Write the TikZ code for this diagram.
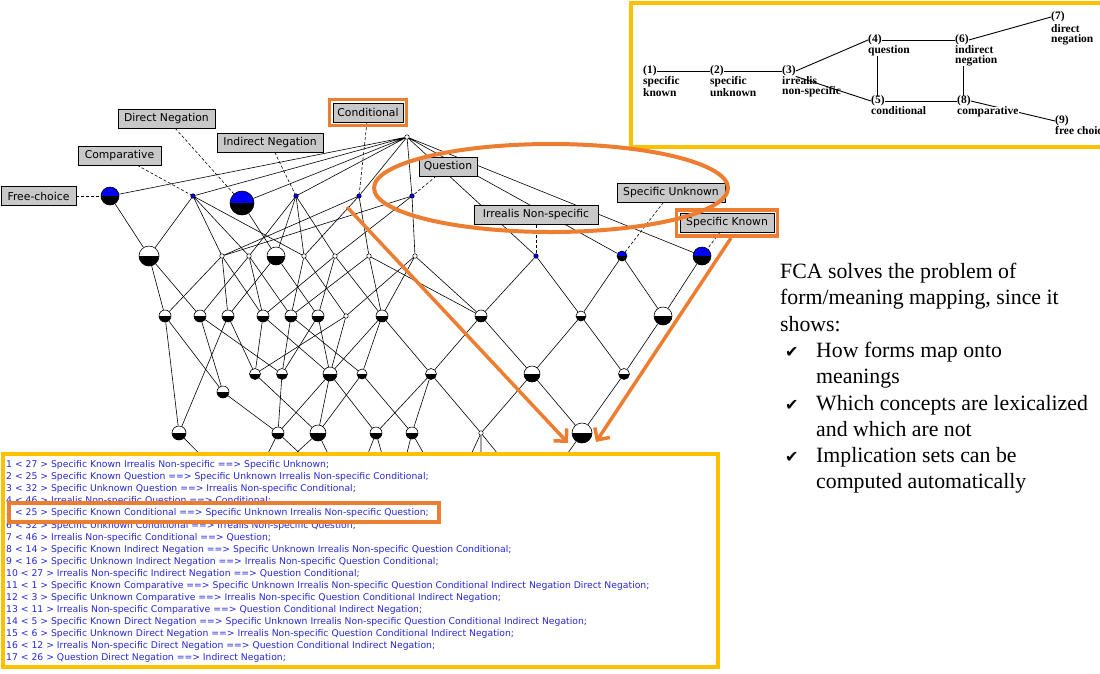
\documentclass[tikz,border=0pt]{standalone}
\usepackage{fontspec}
\setmainfont{Liberation Serif}
\newfontfamily\guifont{DejaVu Sans}
\usetikzlibrary{arrows.meta,backgrounds,fit}

\definecolor{fcorange}{RGB}{237,125,49}
\definecolor{fcyellow}{RGB}{255,192,0}
\definecolor{fcblue}{RGB}{0,0,245}
\definecolor{rulesblue}{RGB}{40,40,215}
\definecolor{lblgray}{RGB}{200,200,200}

\tikzset{
  conc/.style={circle, draw, line width=0.6pt, inner sep=0pt, minimum size=#1, fill=white,
    path picture={\fill[black] (path picture bounding box.west) rectangle (path picture bounding box.south east);}},
  attr/.style={conc=#1, fill=fcblue},
  cdot/.style={circle, draw, line width=0.5pt, inner sep=0pt, minimum size=4.5pt, fill=white},
  bdot/.style={cdot, fill=fcblue},
  lbl/.style={draw, fill=lblgray, line width=0.6pt, font=\guifont\fontsize{10.8}{12}\selectfont,
    inner xsep=1.5pt, minimum height=19pt, minimum width=#1},
  link/.style={line width=0.6pt},
  hint/.style={line width=0.6pt, dash pattern=on 3pt off 2pt},
  hilite/.style={draw=fcorange, line width=3.5pt},
  ybox/.style={draw=fcyellow, line width=4pt},
  scan/.style={font=\bfseries\fontsize{11.5}{10}\selectfont, inner sep=0pt, anchor=west},
  scanw/.style={scan, anchor=north west, align=left},
}
\newcommand{\tick}{\makebox[31pt][l]{\guifont\fontsize{16}{16}\selectfont ✔}}

\begin{document}
\begin{tikzpicture}[x=1pt,y=-1pt]
  \useasboundingbox (0,0) rectangle (1100,673);

  % semantic map, top right
  \begin{scope}
    \clip (0,0) rectangle (1100,673);
    \draw[ybox] (631,3) rectangle (1110,147);
    \node[scan] (t1) at (643,71) {(1)};
    \node[scanw] (w1) at (643,76.5) {specific\\known};
    \node[scan] (t2) at (710,71) {(2)};
    \node[scanw] (w2) at (710,76.5) {specific\\unknown};
    \node[scan] (t3) at (782,71) {(3)};
    \node[scanw] (w3) at (782,76.5) {irrealis\\non-specific};
    \node[scan] (t4) at (868,40) {(4)};
    \node[scanw] (w4) at (868,45.5) {question};
    \node[scan] (t5) at (871,101) {(5)};
    \node[scanw] (w5) at (871,106.5) {conditional};
    \node[scan] (t6) at (955,40) {(6)};
    \node[scanw] (w6) at (955,45.5) {indirect\\negation};
    \node[scan] (t7) at (1051,17) {(7)};
    \node[scanw] (w7) at (1051,24) {direct\\negation};
    \node[scan] (t8) at (957,101) {(8)};
    \node[scanw, fill=white] (w8) at (957,106.5) {comparative};
    \node[scan] (t9) at (1055,121) {(9)};
    \node[scanw] (w9) at (1055,126.5) {free choice};
  \end{scope}

  % lattice: root
  \node[cdot] (top) at (407,137) {};
  % level 1 (attribute concepts)
  \node[attr=18pt] (fc) at (110,196) {};
  \node[bdot] (cmp) at (193,196) {};
  \node[attr=24pt] (dn) at (242,203) {};
  \node[bdot] (idn) at (296,196) {};
  \node[bdot] (cnd) at (359,196) {};
  \node[bdot] (qst) at (412,196) {};
  \node[bdot] (irr) at (536,256) {};
  \node[attr=10pt] (su) at (622,256) {};
  \node[attr=18pt] (sk) at (702,256) {};
  % level 2
  \node[conc=20pt] (b1) at (149,256) {};
  \node[cdot] (b2) at (222,256) {};
  \node[cdot] (b3) at (249,256) {};
  \node[conc=18pt] (b4) at (276,256) {};
  \node[cdot] (b5) at (304,256) {};
  \node[cdot] (b6) at (335,256) {};
  \node[cdot] (b7) at (369,256) {};
  \node[cdot] (b8) at (415,256) {};
  % level 3
  \node[conc=12pt] (c1) at (165,316) {};
  \node[conc=12pt] (c2) at (200,316) {};
  \node[conc=12pt] (c3) at (228,316) {};
  \node[conc=12pt] (c4) at (263,316) {};
  \node[conc=12pt] (c5) at (291,316) {};
  \node[conc=12pt] (c6) at (318,316) {};
  \node[cdot] (c7) at (346,316) {};
  \node[conc=12pt] (c8) at (382,316) {};
  \node[conc=12pt] (c9) at (481,316) {};
  \node[conc=10pt] (c10) at (581,316) {};
  \node[conc=18pt] (c11) at (663,316) {};
  % level 4
  \node[conc=12pt] (d0) at (223,392) {};
  \node[conc=11pt] (d1) at (255,374) {};
  \node[conc=11pt] (d2) at (282,374) {};
  \node[conc=14pt] (d3) at (330,374) {};
  \node[conc=10pt] (d4) at (362,374) {};
  \node[conc=11pt] (d5) at (431,374) {};
  \node[conc=16pt] (d6) at (532,374) {};
  \node[conc=11pt] (d7) at (624,374) {};
  % level 5
  \node[conc=14pt] (e1) at (179,433) {};
  \node[conc=12pt] (e2) at (278,433) {};
  \node[conc=16pt] (e3) at (318,433) {};
  \node[conc=12pt] (e4) at (376,433) {};
  \node[conc=12pt] (e5) at (412,433) {};
  \node[cdot] (e6) at (481,433) {};
  \node[conc=20pt] (e7) at (582,433) {};
  % level 6, hidden under the rules box
  \coordinate (g1) at (245,500);
  \coordinate (g2) at (350,500);
  \coordinate (g3) at (395,500);
  \coordinate (g4) at (450,500);
  \coordinate (g5) at (481,500);
  \coordinate (g6) at (535,500);

  % attribute labels
  \node[lbl=75pt] (lfc) at (38.5,196) {Free-choice};
  \node[lbl=83pt] (lcmp) at (119.5,155.5) {Comparative};
  \node[lbl=97pt] (ldn) at (166.5,118.5) {Direct Negation};
  \node[lbl=106pt] (lidn) at (270,142.5) {Indirect Negation};
  \node[lbl=70pt] (lcnd) at (368,112.5) {Conditional};
  \node[lbl=58pt] (lqst) at (448,166.5) {Question};
  \node[lbl=124pt] (lirr) at (536,215) {Irrealis Non-specific};
  \node[lbl=108pt] (lsu) at (671,192.5) {Specific Unknown};
  \node[lbl=94pt] (lsk) at (727,223) {Specific Known};

  \begin{pgfonlayer}{background}
    % semantic map links
    \draw[line width=0.9pt] (t1.east) -- (t2.west);
    \draw[line width=0.9pt] (t2.east) -- (t3.west);
    \draw[line width=0.9pt] (t3.east) -- (t4.west);
    \draw[line width=0.9pt] (t3.south east) -- (t5.west);
    \draw[line width=0.9pt] (t4.east) -- (t6.west);
    \draw[line width=0.9pt] (w4.south -| t5.north) -- (t5.north);
    \draw[line width=0.9pt] (t5.east) -- (t8.west);
    \draw[line width=0.9pt] (w6.south -| t8.north) -- (t8.north);
    \draw[line width=0.9pt] (t6.east) -- (t7.west);
    \draw[line width=0.9pt] (t8.east) -- (t9.west);

    \begin{scope}[link]
      % root
      \draw (top) -- (fc) (top) -- (cmp) (top) -- (dn) (top) -- (idn) (top) -- (cnd);
      \draw (top) -- (qst) (top) -- (irr) (top) -- (su) (top) -- (sk);
      % level 1
      \draw (fc) -- (b1);
      \draw (cmp) -- (b1) (cmp) -- (b2) (cmp) -- (b3) (cmp) -- (b5);
      \draw (dn) -- (b4);
      \draw (idn) -- (b3) (idn) -- (b4) (idn) -- (b5) (idn) -- (b6);
      \draw (cnd) -- (b2) (cnd) -- (b5) (cnd) -- (b7);
      \draw (qst) -- (b2) (qst) -- (b6) (qst) -- (b8);
      \draw (irr) -- (c9) (irr) -- (c10);
      \draw (su) -- (c10) (su) -- (c11);
      \draw (sk) -- (c11);
      % level 2
      \draw (b1) -- (c1) (b1) -- (c2);
      \draw (b2) -- (c1) (b2) -- (c3) (b2) -- (c4);
      \draw (b3) -- (c2) (b3) -- (c4) (b3) -- (c5);
      \draw (b4) -- (c3) (b4) -- (c6);
      \draw (b5) -- (c5) (b5) -- (c7);
      \draw (b6) -- (c4) (b6) -- (c6) (b6) -- (c8);
      \draw (b7) -- (c5) (b7) -- (c8) (b7) -- (c9);
      \draw (b8) -- (c7) (b8) -- (c8) (b8) -- (c9);
      % level 3
      \draw (c1) -- (e1) (c1) -- (d0);
      \draw (c2) -- (d0) (c2) -- (d2);
      \draw (c3) -- (e1) (c3) -- (d1);
      \draw (c4) -- (d1) (c4) -- (d3);
      \draw (c5) -- (d2) (c5) -- (d4);
      \draw (c6) -- (d2) (c6) -- (d3);
      \draw (c7) -- (d1) (c7) -- (d3);
      \draw (c8) -- (d3) (c8) -- (d4) (c8) -- (d5);
      \draw (c9) -- (d5) (c9) -- (d6);
      \draw (c10) -- (d6) (c10) -- (d7);
      \draw (c11) -- (d7);
      % level 4
      \draw (d0) -- (e2);
      \draw (d1) -- (e3);
      \draw (d2) -- (e2);
      \draw (d3) -- (e2) (d3) -- (e3) (d3) -- (e4);
      \draw (d4) -- (e3) (d4) -- (e5);
      \draw (d5) -- (e4) (d5) -- (e5) (d5) -- (e6);
      \draw (d6) -- (e6) (d6) -- (e7);
      \draw (d7) -- (e7);
      % level 5
      \draw (e1) -- (g1);
      \draw (e2) -- (g1) (e2) -- (g2);
      \draw (e3) -- (g1) (e3) -- (g2);
      \draw (e4) -- (g2) (e4) -- (g3);
      \draw (e5) -- (g3) (e5) -- (g4);
      \draw (e6) -- (g4) (e6) -- (g5) (e6) -- (g6);
      \draw (e7) -- (g6);
    \end{scope}

    % labels to their concepts
    \draw[hint] (lfc) -- (fc);
    \draw[hint] (lcmp) -- (cmp);
    \draw[hint] (ldn) -- (dn);
    \draw[hint] (lidn) -- (idn);
    \draw[hint] (lcnd) -- (cnd);
    \draw[hint] (lqst) -- (qst);
    \draw[hint] (lirr) -- (irr);
    \draw[hint] (lsu) -- (su);
    \draw[hint] (lsk) -- (sk);
  \end{pgfonlayer}

  % implication rules
  \draw[ybox, fill=white] (3,454) rectangle (718,667);
  \node[anchor=north west, inner sep=0pt, align=left, text=rulesblue,
    font=\guifont\fontsize{9.25}{12.06}\selectfont] (rules) at (6,460.5) {%
    1 < 27 > Specific Known Irrealis Non-specific ==> Specific Unknown;\\
    2 < 25 > Specific Known Question ==> Specific Unknown Irrealis Non-specific Conditional;\\
    3 < 32 > Specific Unknown Question ==> Irrealis Non-specific Conditional;\\
    4 < 46 > Irrealis Non-specific Question ==> Conditional;\\
    5 < 25 > Specific Known Conditional ==> Specific Unknown Irrealis Non-specific Question;\\
    6 < 32 > Specific Unknown Conditional ==> Irrealis Non-specific Question;\\
    7 < 46 > Irrealis Non-specific Conditional ==> Question;\\
    8 < 14 > Specific Known Indirect Negation ==> Specific Unknown Irrealis Non-specific Question Conditional;\\
    9 < 16 > Specific Unknown Indirect Negation ==> Irrealis Non-specific Question Conditional;\\
    10 < 27 > Irrealis Non-specific Indirect Negation ==> Question Conditional;\\
    11 < 1 > Specific Known Comparative ==> Specific Unknown Irrealis Non-specific Question Conditional Indirect Negation Direct Negation;\\
    12 < 3 > Specific Unknown Comparative ==> Irrealis Non-specific Question Conditional Indirect Negation;\\
    13 < 11 > Irrealis Non-specific Comparative ==> Question Conditional Indirect Negation;\\
    14 < 5 > Specific Known Direct Negation ==> Specific Unknown Irrealis Non-specific Question Conditional Indirect Negation;\\
    15 < 6 > Specific Unknown Direct Negation ==> Irrealis Non-specific Question Conditional Indirect Negation;\\
    16 < 12 > Irrealis Non-specific Direct Negation ==> Question Conditional Indirect Negation;\\
    17 < 26 > Question Direct Negation ==> Indirect Negation;};

  % comment text
  \node[anchor=north west, inner sep=0pt, align=left,
    font=\fontsize{21.8}{26.3}\selectfont] (notes) at (780,263) {%
    FCA solves the problem of\\
    form/meaning mapping, since it\\
    shows:\\
    \hspace*{5pt}\tick How forms map onto\\
    \hspace*{36pt}meanings\\
    \hspace*{5pt}\tick Which concepts are lexicalized\\
    \hspace*{36pt}and which are not\\
    \hspace*{5pt}\tick Implication sets can be\\
    \hspace*{36pt}computed automatically};

  % highlights
  \node[hilite, fit=(lcnd), inner sep=3pt] (hcnd) {};
  \node[hilite, fit=(lsk), inner sep=3pt] (hsk) {};
  \draw[hilite] (9,503) rectangle (439,522);
  \draw[fcorange, line width=4pt] (551,188) ellipse [x radius=177, y radius=44];
  \coordinate (a1s) at (347,207);
  \coordinate (a1e) at (568,443);
  \coordinate (a2s) at (731,238);
  \coordinate (a2e) at (596,442);
  \draw[fcorange, line width=3.5pt, -{Straight Barb[length=9pt,width=18pt]}] (a1s) -- (a1e);
  \draw[fcorange, line width=3.5pt, -{Straight Barb[length=9pt,width=18pt]}] (a2s) -- (a2e);
\end{tikzpicture}
\end{document}
